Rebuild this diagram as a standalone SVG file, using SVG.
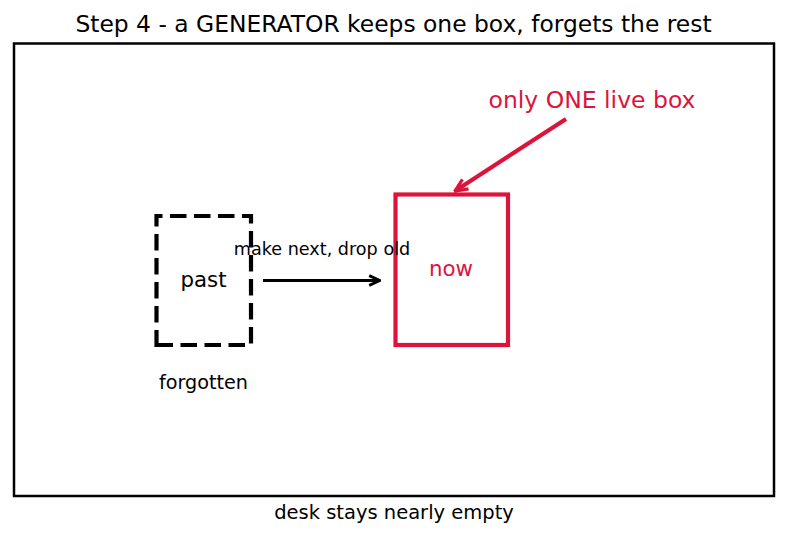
<svg xmlns="http://www.w3.org/2000/svg" width="787" height="537" viewBox="0 0 787 537">
<style>
text{font-family:"DejaVu Sans",sans-serif;}
.red{fill:#dc143c;}
</style>
<defs>
<marker id="ah" viewBox="0 0 12 12" refX="11" refY="6" markerWidth="13" markerHeight="13" markerUnits="userSpaceOnUse" orient="auto">
<path d="M1,1.5 L11,6 L1,10.5" fill="none" stroke="#000" stroke-width="2.6"/>
</marker>
<marker id="ahr" viewBox="0 0 12 12" refX="11" refY="6" markerWidth="15" markerHeight="15" markerUnits="userSpaceOnUse" orient="auto">
<path d="M1,1.5 L11,6 L1,10.5" fill="none" stroke="#dc143c" stroke-width="2.6"/>
</marker>
</defs>
<rect width="787" height="537" fill="#fff"/>
<text x="393.5" y="32" text-anchor="middle" font-size="23.4">Step 4 - a GENERATOR keeps one box, forgets the rest</text>
<rect x="14" y="43.5" width="760" height="452.5" fill="none" stroke="#000" stroke-width="2.5"/>
<g id="past">
<path d="M156.5,345 H251 V216 H156.5 Z" fill="none" stroke="#000" stroke-width="4.2" stroke-dasharray="16.5 7.5"/>
<text x="203.5" y="287" text-anchor="middle" font-size="21.3">past</text>
<text x="203.5" y="389" text-anchor="middle" font-size="19.2">forgotten</text>
</g>
<g id="now">
<rect x="395.5" y="194.5" width="112.5" height="150.5" fill="none" stroke="#dc143c" stroke-width="4.2"/>
<text class="red" x="451" y="276" text-anchor="middle" font-size="21.3">now</text>
</g>
<g id="note">
<text class="red" x="592" y="108" text-anchor="middle" font-size="23.5">only ONE live box</text>
</g>
<g id="connectors">
<line x1="263" y1="280.5" x2="380" y2="280.5" stroke="#000" stroke-width="3" marker-end="url(#ah)"/>
<text x="322" y="255" text-anchor="middle" font-size="17.6">make next, drop old</text>
<line x1="566" y1="119" x2="455" y2="191" stroke="#dc143c" stroke-width="4.2" marker-end="url(#ahr)"/>
</g>
<text x="394" y="519" text-anchor="middle" font-size="19.5">desk stays nearly empty</text>
</svg>
